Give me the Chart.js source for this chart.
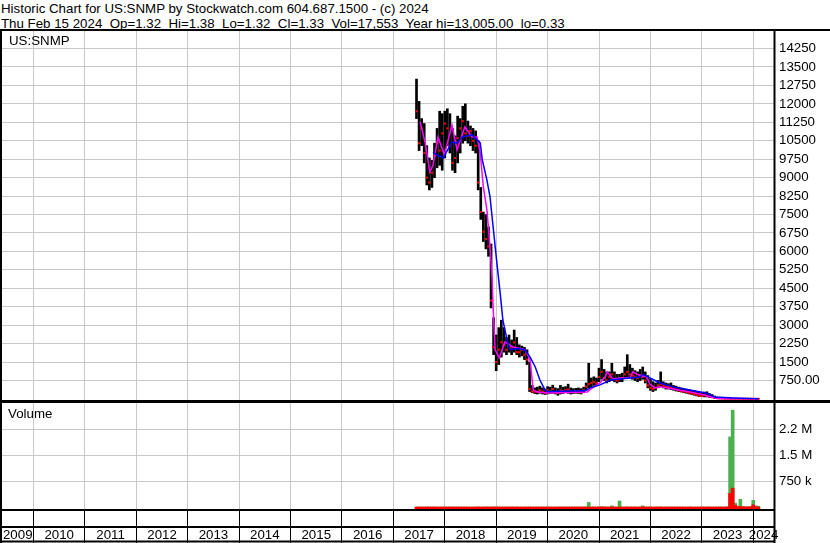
<!DOCTYPE html>
<html>
<head>
<meta charset="utf-8">
<title>US:SNMP historic chart</title>
<script src="https://cdn.jsdelivr.net/npm/chart.js@4"></script>
<style>
  html, body { margin: 0; padding: 0; background: #fff; }
  body { width: 830px; height: 543px; position: relative; overflow: hidden;
         font-family: "Liberation Sans", Arial, sans-serif; color: #000; }
  #hdr { position: absolute; left: 1px; top: 1px; font-size: 13.3px; line-height: 15px; white-space: pre; }
  canvas { position: absolute; left: 0; }
  #priceCv { top: 0; }
  #volCv { top: 401px; }
  .lbl { position: absolute; font-size: 13.3px; line-height: 15px; white-space: pre; }
</style>
</head>
<body>
<div id="hdr">Historic Chart for US:SNMP by Stockwatch.com 604.687.1500 - (c) 2024
Thu Feb 15 2024  Op=1.32  Hi=1.38  Lo=1.32  Cl=1.33  Vol=17,553  Year hi=13,005.00  lo=0.33</div>
<canvas id="priceCv" width="830" height="402"></canvas>
<canvas id="volCv" width="830" height="142"></canvas>
<div class="lbl" style="left:9px;top:33px">US:SNMP</div>
<div class="lbl" style="left:8px;top:406px">Volume</div>

<script>
// ── Data ──────────────────────────────────────────────────────────────────────
const barYears = [
  2017.45, 2017.50, 2017.55, 2017.60, 2017.65, 2017.70, 2017.75, 2017.80, 2017.85, 2017.90,
  2017.95, 2018.00, 2018.05, 2018.10, 2018.15, 2018.20, 2018.25, 2018.30, 2018.35, 2018.40,
  2018.45, 2018.50, 2018.55, 2018.60, 2018.65, 2018.70, 2018.75, 2018.80, 2018.85, 2018.90,
  2018.95, 2019.00, 2019.05, 2019.10, 2019.15, 2019.20, 2019.25, 2019.30, 2019.35, 2019.40,
  2019.45, 2019.50, 2019.55, 2019.60, 2019.65, 2019.70, 2019.75, 2019.80, 2019.85, 2019.90,
  2019.95, 2020.00, 2020.05, 2020.10, 2020.15, 2020.20, 2020.25, 2020.30, 2020.35, 2020.40,
  2020.45, 2020.50, 2020.55, 2020.60, 2020.65, 2020.70, 2020.75, 2020.80, 2020.85, 2020.90,
  2020.95, 2021.00, 2021.05, 2021.10, 2021.15, 2021.20, 2021.25, 2021.30, 2021.35, 2021.40,
  2021.45, 2021.50, 2021.55, 2021.60, 2021.65, 2021.70, 2021.75, 2021.80, 2021.85, 2021.90,
  2021.95, 2022.00, 2022.05, 2022.10, 2022.15, 2022.20, 2022.25, 2022.30, 2022.35, 2022.40,
  2022.45, 2022.50, 2022.55, 2022.60, 2022.65, 2022.70, 2022.75, 2022.80, 2022.85, 2022.90,
  2022.95, 2023.00, 2023.05, 2023.10, 2023.15, 2023.20, 2023.25, 2023.30, 2023.35, 2023.40,
  2023.45, 2023.50, 2023.55, 2023.60, 2023.65, 2023.70, 2023.75, 2023.80, 2023.85, 2023.90,
  2023.95, 2024.00, 2024.05, 2024.10
];

const barLow = [
  11400, 10100, 10300, 9600, 8700, 8500, 8600, 9000, 9400, 9500,
  9300, 9800, 10300, 10000, 9300, 9200, 9600, 10000, 10400, 10500,
  10400, 10300, 10100, 10000, 8500, 7300, 6400, 6100, 5800, 3700,
  1800, 1150, 1400, 1700, 1900, 1800, 1900, 1800, 1900, 1800,
  1700, 1750, 1600, 1400, 300, 250, 220, 200, 230, 200,
  180, 200, 220, 230, 200, 150, 200, 220, 250, 230,
  200, 220, 230, 220, 200, 250, 350, 450, 500, 550,
  550, 700, 800, 750, 650, 700, 750, 700, 650, 700,
  700, 850, 900, 850, 800, 750, 700, 750, 800, 650,
  450, 350, 300, 350, 450, 500, 450, 400, 400, 380,
  350, 320, 300, 280, 250, 230, 200, 180, 150, 120,
  100, 90, 80, 80, 60, 50, 30, 20, 10, 5,
  5, 3, 3, 2, 2, 2, 2, 2, 1, 1,
  1, 1, 1, 1
];

const barHigh = [
  13005, 12100, 11400, 11200, 10300, 9800, 9700, 10400, 11000, 11700,
  11600, 11700, 11800, 11600, 11000, 10700, 11500, 11400, 11900, 12000,
  11300, 11100, 11000, 10900, 10500, 8600, 7600, 7500, 7000, 6300,
  3300, 2600, 2900, 3200, 2900, 2500, 2600, 2400, 2800, 2500,
  2200, 2150, 2100, 2000, 1500, 550, 450, 480, 520, 450,
  400, 500, 480, 560, 450, 420, 550, 480, 500, 600,
  450, 420, 430, 450, 420, 480, 650, 1450, 850, 900,
  850, 1250, 1600, 1200, 1100, 1100, 1450, 1100, 1000, 1000,
  1050, 1300, 1800, 1400, 1250, 1150, 1100, 1200, 1300, 1100,
  950, 800, 700, 650, 750, 1100, 700, 650, 620, 650,
  550, 520, 480, 450, 420, 400, 380, 350, 330, 300,
  280, 250, 280, 290, 220, 180, 120, 80, 50, 40,
  35, 30, 30, 25, 25, 22, 20, 20, 18, 18,
  16, 15, 15, 15
];

const barClose = [
  11700, 10400, 11000, 10000, 9000, 8800, 9200, 9900, 10400, 10100,
  10800, 11200, 11000, 10300, 9600, 9800, 10600, 11000, 11300, 10800,
  10700, 10900, 10500, 10300, 8800, 7600, 6800, 6500, 6200, 4000,
  2100, 1500, 2000, 2300, 2200, 2000, 2200, 2100, 2300, 1900,
  1900, 2000, 1800, 1600, 400, 300, 300, 280, 350, 300,
  250, 350, 300, 400, 280, 250, 350, 320, 350, 380,
  300, 280, 300, 320, 260, 350, 500, 600, 650, 700,
  650, 900, 1100, 850, 750, 900, 1000, 800, 750, 800,
  850, 1000, 1100, 1000, 950, 900, 850, 950, 900, 750,
  550, 450, 400, 450, 550, 600, 550, 500, 480, 450,
  420, 380, 350, 320, 300, 280, 250, 220, 200, 160,
  140, 120, 150, 130, 90, 70, 40, 30, 20, 15,
  10, 8, 6, 5, 5, 4, 4, 3, 3, 3,
  2, 2, 2, 1.33
];

// volume split into up-day (green) and down-day (red) parts
const volUp = [
  6000, 3000, 8000, 2000, 4000, 7000, 2000, 8000, 3000, 6000,
  3000, 7000, 2000, 4000, 8000, 2000, 9000, 3000, 6000, 2000,
  4000, 2000, 7000, 2000, 4000, 2000, 8000, 3000, 2000, 7000,
  9000, 3000, 7000, 2000, 4000, 8000, 2000, 3000, 7000, 4000,
  2000, 4000, 8000, 2000, 3000, 7000, 4000, 2000, 8000, 3000,
  2000, 8000, 4000, 2000, 7000, 3000, 8000, 2000, 4000, 7000,
  3000, 2000, 8000, 4000, 2000, 7000, 9000, 140000, 8000, 4000,
  7000, 9000, 15000, 7000, 4000, 8000, 40000, 4000, 7000, 180000,
  7000, 4000, 9000, 7000, 3000, 8000, 3000, 7000, 40000, 4000,
  7000, 3000, 2000, 8000, 3000, 9000, 4000, 2000, 8000, 3000,
  2000, 4000, 8000, 2000, 3000, 2000, 7000, 3000, 2000, 4000,
  7000, 3000, 2000, 8000, 4000, 2000, 8000, 3000, 9000, 7000,
  4000, 15000, 2030000, 2800000, 120000, 20000, 230000, 20000, 8000, 15000,
  9000, 200000, 40000, 30000
];

const volDown = [
  4000, 7000, 4000, 6000, 8000, 4000, 7000, 4000, 6000, 4000,
  7000, 3000, 7000, 6000, 4000, 7000, 3000, 7000, 4000, 7000,
  6000, 4000, 3000, 7000, 8000, 6000, 4000, 7000, 8000, 3000,
  6000, 8000, 4000, 7000, 6000, 3000, 7000, 8000, 4000, 7000,
  6000, 4000, 3000, 7000, 8000, 4000, 6000, 7000, 4000, 6000,
  7000, 4000, 6000, 7000, 3000, 6000, 4000, 7000, 6000, 4000,
  6000, 7000, 4000, 6000, 7000, 4000, 6000, 8000, 4000, 7000,
  4000, 6000, 8000, 6000, 7000, 4000, 6000, 7000, 4000, 8000,
  4000, 7000, 6000, 4000, 7000, 6000, 4000, 6000, 8000, 7000,
  4000, 7000, 6000, 4000, 7000, 6000, 4000, 7000, 4000, 6000,
  7000, 6000, 4000, 7000, 6000, 4000, 6000, 7000, 4000, 6000,
  4000, 7000, 6000, 4000, 7000, 6000, 4000, 7000, 6000, 4000,
  7000, 8000, 400000, 550000, 60000, 15000, 20000, 15000, 10000, 8000,
  15000, 70000, 12000, 8000
];

// moving averages (magenta = short, blue = long)
const maFastYears = [
  2017.52, 2017.62, 2017.71, 2017.77, 2017.87, 2017.99, 2018.14, 2018.24, 2018.39, 2018.53,
  2018.63, 2018.69, 2018.75, 2018.82, 2018.88, 2018.92, 2018.94, 2018.98, 2019.06, 2019.17,
  2019.33, 2019.56, 2019.66, 2019.70, 2019.72, 2019.80, 2020.00, 2020.40, 2020.77, 2020.87,
  2021.02, 2021.12, 2021.16, 2021.27, 2021.41, 2021.60, 2021.66, 2021.76, 2021.93, 2021.99,
  2022.09, 2022.19, 2022.44, 2022.77, 2023.06, 2023.10, 2023.31, 2024.10
];
const maFast = [
  11270, 10400, 9230, 9500, 10650, 9920, 11140, 10130, 11060, 10650,
  10650, 10000, 8620, 7690, 6180, 4900, 3740, 2000, 1670, 2320,
  2110, 2000, 1590, 770, 365, 280, 245, 260, 285, 450,
  650, 900, 1100, 810, 850, 850, 1100, 980, 895, 600,
  450, 490, 405, 285, 160, 120, 20, 5
];

const maSlowYears = [
  2017.77, 2017.85, 2017.97, 2018.14, 2018.24, 2018.34, 2018.45, 2018.53, 2018.63, 2018.69,
  2018.73, 2018.82, 2018.88, 2018.94, 2019.02, 2019.08, 2019.13, 2019.21, 2019.27, 2019.41,
  2019.56, 2019.66, 2019.76, 2019.85, 2019.95, 2020.00, 2020.50, 2020.73, 2020.83, 2021.02,
  2021.22, 2021.41, 2021.60, 2021.80, 2021.85, 2021.99, 2022.19, 2022.44, 2022.77, 2023.08,
  2023.25, 2023.64, 2024.10
];
const maSlow = [
  10040, 9920, 9800, 10450, 10400, 10650, 10700, 10740, 10530, 10410,
  9720, 8900, 8215, 7000, 5400, 4250, 3210, 2400, 2000, 2050,
  2000, 1700, 1300, 770, 365, 300, 320, 330, 450, 570,
  770, 810, 850, 895, 1000, 850, 650, 490, 365, 245,
  80, 40, 10
];

// axis ticks and labels
const yearLabels = ['2009', '2010', '2011', '2012', '2013', '2014', '2015', '2016',
                    '2017', '2018', '2019', '2020', '2021', '2022', '2023', '2024'];
const priceTicks = [750, 1500, 2250, 3000, 3750, 4500, 5250, 6000, 6750, 7500,
                    8250, 9000, 9750, 10500, 11250, 12000, 12750, 13500, 14250];
const priceTickLabels = ['750.00', '1500', '2250', '3000', '3750', '4500', '5250', '6000', '6750', '7500',
                         '8250', '9000', '9750', '10500', '11250', '12000', '12750', '13500', '14250'];
const volTicks = [750000, 1500000, 2250000];
const volTickLabels = ['750 k', '1.5 M', '2.2 M'];

// ── Look ──────────────────────────────────────────────────────────────────────
const X_MIN = 2009.387, X_MAX = 2024.404;
const GRID = '#c8c8c8';
const CLEAR = 'rgba(0,0,0,0)';
const AXIS_W = 56;

Chart.defaults.font.family = '"Liberation Sans", Arial, sans-serif';
Chart.defaults.font.size = 13.3;
Chart.defaults.color = '#000';

// black frame round the panels and the label rows under the volume panel
const framePlugin = {
  id: 'frame',
  afterDraw(chart, args, opts) {
    const { ctx, chartArea: a, width, height } = chart;
    ctx.save();
    ctx.strokeStyle = '#000';
    ctx.lineWidth = 2;
    ctx.beginPath();
    ctx.moveTo(0, a.top - 1); ctx.lineTo(width, a.top - 1);
    if (opts.volume) {
      ctx.moveTo(0, a.bottom + 1); ctx.lineTo(a.right + 1, a.bottom + 1);
      ctx.moveTo(0, a.bottom + 18); ctx.lineTo(a.right + 1, a.bottom + 18);
      ctx.moveTo(0, height - 1.5); ctx.lineTo(a.right + 1, height - 1.5);
      ctx.moveTo(1, a.top - 1); ctx.lineTo(1, height);
      ctx.moveTo(a.right + 0.5, a.top - 1); ctx.lineTo(a.right + 0.5, height);
    } else {
      ctx.moveTo(0, a.bottom); ctx.lineTo(width, a.bottom);
      ctx.moveTo(1, a.top - 1); ctx.lineTo(1, a.bottom);
      ctx.moveTo(a.right + 0.5, a.top - 1); ctx.lineTo(a.right + 0.5, a.bottom);
    }
    ctx.stroke();
    ctx.restore();
  }
};

function noEdgePadding(s) {
  s.paddingTop = 0; s.paddingBottom = 0; s.paddingLeft = 0; s.paddingRight = 0;
}

function yearBoundaries(scale) {
  scale.ticks = yearLabels.map(Number).filter(y => y > scale.min).map(y => ({ value: y }));
}

// boundary ticks draw the separators, mid-year ticks carry the labels
function yearLabelTicks(scale) {
  const t = [];
  yearLabels.forEach(lab => {
    const y = Number(lab);
    if (y > scale.min) t.push({ value: y });
    const a = Math.max(y, scale.min), b = Math.min(y + 1, scale.max);
    t.push({ value: (a + b) / 2, year: lab });
  });
  scale.ticks = t;
}

// ── Price panel ───────────────────────────────────────────────────────────────
new Chart(document.getElementById('priceCv'), {
  type: 'bar',
  data: {
    datasets: [
      {
        type: 'line', order: 0,
        data: maSlowYears.map((x, i) => ({ x, y: maSlow[i] })),
        borderColor: '#0000ff', borderWidth: 1.5, pointRadius: 0, tension: 0
      },
      {
        type: 'line', order: 1,
        data: maFastYears.map((x, i) => ({ x, y: maFast[i] })),
        borderColor: '#ff00ff', borderWidth: 1.5, pointRadius: 0, tension: 0
      },
      {
        type: 'line', order: 2, showLine: false,
        data: barYears.map((x, i) => ({ x, y: barClose[i] })),
        pointStyle: 'rect', pointRadius: 1.5, borderWidth: 0,
        backgroundColor: '#ff0000'
      },
      {
        type: 'bar', order: 3,
        data: barYears.map((x, i) => ({ x, y: [barLow[i], barHigh[i]] })),
        backgroundColor: '#000', barThickness: 2
      }
    ]
  },
  options: {
    responsive: false,
    animation: false,
    events: [],
    layout: { autoPadding: false, padding: { left: 2, top: 31, right: 0, bottom: 1 } },
    plugins: { legend: { display: false }, tooltip: { enabled: false }, frame: { volume: false } },
    scales: {
      x: {
        type: 'linear', min: X_MIN, max: X_MAX, offset: false,
        afterBuildTicks: yearBoundaries,
        afterFit: s => { s.height = 0; noEdgePadding(s); },
        grid: { color: GRID, offset: false, drawTicks: false },
        border: { display: false },
        ticks: { display: false, autoSkip: false }
      },
      y: {
        position: 'right', min: -84, max: 14962,
        afterBuildTicks: s => { s.ticks = priceTicks.map(v => ({ value: v })); },
        afterFit: s => { s.width = AXIS_W; noEdgePadding(s); },
        grid: { color: GRID, drawTicks: false },
        border: { display: false },
        ticks: { padding: 5, autoSkip: false, callback: (v, i) => priceTickLabels[i] }
      }
    }
  },
  plugins: [framePlugin]
});

// ── Volume panel ──────────────────────────────────────────────────────────────
const VOL_MIN = -50000;
new Chart(document.getElementById('volCv'), {
  type: 'bar',
  data: {
    datasets: [
      {
        order: 0,
        data: barYears.map((x, i) => ({ x, y: volDown[i] })),
        backgroundColor: '#ff0000', barThickness: 3, grouped: false, base: VOL_MIN
      },
      {
        order: 1,
        data: barYears.map((x, i) => ({ x, y: volUp[i] })),
        backgroundColor: '#4caf50', barThickness: 3, grouped: false, base: VOL_MIN
      }
    ]
  },
  options: {
    responsive: false,
    animation: false,
    events: [],
    layout: { autoPadding: false, padding: { left: 2, top: 2, right: 0, bottom: 0 } },
    plugins: { legend: { display: false }, tooltip: { enabled: false }, frame: { volume: true } },
    scales: {
      x: {
        type: 'linear', min: X_MIN, max: X_MAX, offset: false,
        afterBuildTicks: yearLabelTicks,
        afterFit: s => { s.height = 34; noEdgePadding(s); },
        grid: {
          offset: false, tickLength: 34,
          color: c => (c.tick && c.tick.year ? CLEAR : GRID),
          tickColor: c => (c.tick && c.tick.year ? CLEAR : '#000')
        },
        border: { display: false },
        ticks: {
          autoSkip: false, maxRotation: 0, padding: -16,
          callback: (v, i, ticks) => ticks[i].year || ''
        }
      },
      y: {
        position: 'right', min: VOL_MIN, max: 3008000,
        afterBuildTicks: s => { s.ticks = volTicks.map(v => ({ value: v })); },
        afterFit: s => { s.width = AXIS_W; noEdgePadding(s); },
        grid: { color: GRID, drawTicks: false },
        border: { display: false },
        ticks: { padding: 5, autoSkip: false, callback: (v, i) => volTickLabels[i] }
      }
    }
  },
  plugins: [framePlugin]
});
</script>
</body>
</html>
